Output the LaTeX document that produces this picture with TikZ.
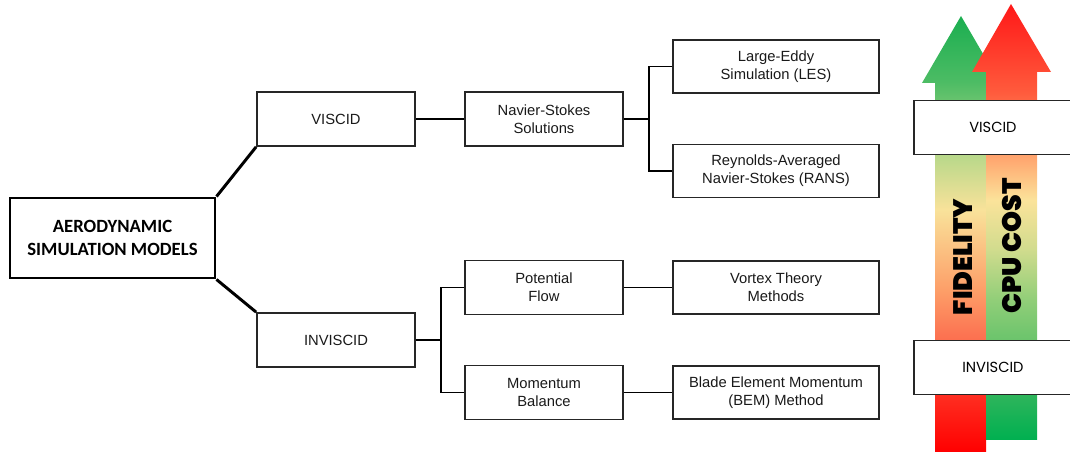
\documentclass[tikz,border=0pt]{standalone}
\usepackage{fontspec}
\setmainfont{Liberation Sans}
\newfontfamily\titlefont{Carlito}
\newfontfamily\arrowfont{Poppins}
\newfontfamily\arrowheavy{Poppins Black}
\usepackage{tikz}
\usetikzlibrary{shapes.geometric, arrows}

\definecolor{boxline}{HTML}{262626}
\definecolor{fidA}{HTML}{FF0000}
\definecolor{fidB}{HTML}{FF2A1E}
\definecolor{fidC}{HTML}{FC7050}
\definecolor{fidD}{HTML}{FD9E68}
\definecolor{fidE}{HTML}{F9E29A}
\definecolor{fidF}{HTML}{B8D88A}
\definecolor{fidG}{HTML}{4CBC64}
\definecolor{fidH}{HTML}{1AAE50}
\definecolor{cpuA}{HTML}{00B050}
\definecolor{cpuB}{HTML}{28B45A}
\definecolor{cpuC}{HTML}{6BC46C}
\definecolor{cpuD}{HTML}{90CE78}
\definecolor{cpuE}{HTML}{D2DC8E}
\definecolor{cpuF}{HTML}{FBE39A}
\definecolor{cpuG}{HTML}{FFAA72}
\definecolor{cpuH}{HTML}{FF5A3C}
\definecolor{cpuI}{HTML}{FF1818}

\pgfdeclareverticalshading{fidelityshade}{100bp}{color(0bp)=(fidA); color(25bp)=(fidA); color(31bp)=(fidB); color(38bp)=(fidC); color(43.5bp)=(fidD); color(52.75bp)=(fidE); color(59bp)=(fidF); color(67.5bp)=(fidG); color(75bp)=(fidH); color(100bp)=(fidH)}
\pgfdeclareverticalshading{cpushade}{100bp}{color(0bp)=(cpuA); color(25bp)=(cpuA); color(29.5bp)=(cpuB); color(36.5bp)=(cpuC); color(41bp)=(cpuD); color(47bp)=(cpuE); color(52.5bp)=(cpuF); color(57bp)=(cpuG); color(65bp)=(cpuH); color(75bp)=(cpuI); color(100bp)=(cpuI)}

\tikzstyle{mainbox} = [rectangle, minimum width=5.125cm, minimum height=2cm, text centered, align=center, draw=black, line width=2.1pt, font=\titlefont\bfseries\fontsize{13.3}{15.9}\selectfont]
\tikzstyle{treebox} = [rectangle, minimum width=3.95cm, minimum height=1.35cm, text centered, align=center, draw=boxline, line width=1.2pt, text=black!90, font=\fontsize{10.5}{12.6}\selectfont]
\tikzstyle{methodbox} = [treebox, minimum width=5.15cm, minimum height=1.325cm]
\tikzstyle{levelbox} = [rectangle, minimum width=3.95cm, minimum height=1.35cm, text centered, draw=boxline, line width=1.4pt, fill=white, font=\arrowfont\fontsize{10.4}{12}\selectfont]
\tikzstyle{arrowlabel} = [rotate=90, font=\arrowheavy\fontsize{19}{21}\selectfont]
\tikzstyle{bigline} = [line width=2.1pt, draw=black]
\tikzstyle{line} = [line width=1.2pt, draw=black]

\begin{document}
\begin{tikzpicture}[node distance=5.2cm]
    \useasboundingbox (-2.8125,-5.35) rectangle (23.9375,5.95);

    \node (main) [mainbox] {AERODYNAMIC\\SIMULATION MODELS};
    \node (viscid) [treebox, right of=main, xshift=0.3875cm, yshift=2.975cm] {VISCID};
    \node (inviscid) [treebox, below of=viscid, yshift=-0.325cm] {INVISCID};
    \node (navier) [treebox, right of=viscid] {Navier-Stokes\\Solutions};
    \node (les) [methodbox, right of=navier, xshift=0.6cm, yshift=1.3125cm] {Large-Eddy\\Simulation (LES)};
    \node (rans) [methodbox, right of=navier, xshift=0.6cm, yshift=-1.3cm] {Reynolds-Averaged\\Navier-Stokes (RANS)};
    \node (potential) [treebox, right of=inviscid, yshift=1.3125cm] {Potential\\Flow};
    \node (momentum) [treebox, right of=inviscid, yshift=-1.3125cm] {Momentum\\Balance};
    \node (vortex) [methodbox, right of=potential, xshift=0.6cm] {Vortex Theory\\Methods};
    \node (bem) [methodbox, right of=momentum, xshift=0.6cm] {Blade Element Momentum\\(BEM) Method};

    \draw [bigline] (main.north east) -- (viscid.south west);
    \draw [bigline] (main.south east) -- (inviscid.north west);
    \draw [line] (viscid.east) -- (navier.west);
    \draw [line] (navier.east) -- ++(0.625,0) |- (les.west);
    \draw [line] (navier.east) -- ++(0.625,0) |- (rans.west);
    \draw [line] (inviscid.east) -- ++(0.625,0) |- (potential.west);
    \draw [line] (inviscid.east) -- ++(0.625,0) |- (momentum.west);
    \draw [line] (potential.east) -- (vortex.west);
    \draw [line] (momentum.east) -- (bem.west);

    % fidelity and cost arrows
    \shade [shading=fidelityshade] (20.5625,-5.35) -- (20.5625,3.875) -- (20.2375,3.875) -- (21.2125,5.55)
        -- (22.1875,3.875) -- (21.8375,3.875) -- (21.8375,-5.35) -- cycle;
    \shade [shading=cpushade] (21.8375,-5.05) -- (21.8375,4.15) -- (21.4875,4.15) -- (22.4625,5.85)
        -- (23.4625,4.15) -- (23.1125,4.15) -- (23.1125,-5.05) -- cycle;

    \node (rviscid) [levelbox] at (22.01,2.7625) {VISCID};
    \node (rinviscid) [levelbox] at (22.01,-3.2375) {INVISCID};
    \node (fidelity) [arrowlabel] at (21.2625,-0.475) {FIDELITY};
    \node (cpucost) [arrowlabel] at (22.4875,-0.2) {CPU COST};

\end{tikzpicture}
\end{document}
